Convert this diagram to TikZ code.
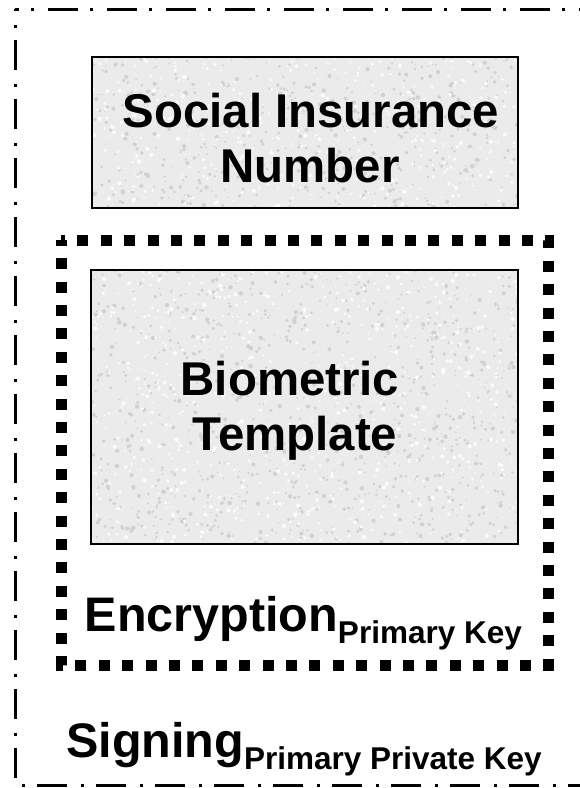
\documentclass[tikz,border=0pt]{standalone}
\usepackage{fontspec}
\setmainfont{Liberation Sans}
\definecolor{granite}{gray}{0.92}
\definecolor{speckdark}{gray}{0.82}
\definecolor{specklight}{gray}{0.985}

% granite-like speckle inside a rectangle: x1 y1 x2 y2 dark-count light-count
\newcommand\granitefill[6]{%
  \begin{scope}
    \clip (#1,#2) rectangle (#3,#4);
    \fill[granite] (#1,#2) rectangle (#3,#4);
    \foreach \k in {1,...,#5}{%
      \pgfmathsetmacro\px{#1+(#3-#1)*rnd}%
      \pgfmathsetmacro\py{#2+(#4-#2)*rnd}%
      \pgfmathsetmacro\pr{0.7+1.5*rnd}%
      \fill[speckdark] (\px,\py) circle[radius=\pr pt];
    }
    \foreach \k in {1,...,#6}{%
      \pgfmathsetmacro\px{#1+(#3-#1)*rnd}%
      \pgfmathsetmacro\py{#2+(#4-#2)*rnd}%
      \pgfmathsetmacro\pr{0.7+1.5*rnd}%
      \fill[specklight] (\px,\py) circle[radius=\pr pt];
    }
  \end{scope}}

\newcommand\keysub[1]{\raisebox{-12pt}{\fontsize{31.5}{31.5}\selectfont #1}}

\tikzset{
  outerframe/.style={line width=3pt, dash pattern=on 30pt off 12pt on 3pt off 14pt, dash phase=26pt},
  keyframe/.style={line width=11pt, dash pattern=on 11pt off 12.4pt, dash phase=7pt},
  databox/.style={draw=black, line width=1.6pt},
  bigtext/.style={font=\bfseries\fontsize{47.4}{47.4}\selectfont, inner sep=0pt, text=black},
  labeltext/.style={font=\bfseries\fontsize{48.5}{48.5}\selectfont, inner sep=0pt, text=black},
}

\begin{document}
\begin{tikzpicture}[x=1pt,y=-1pt]
  \useasboundingbox (0,0) rectangle (580,788);
  \pgfmathsetseed{4711}

  % signing envelope
  \draw[outerframe] (15,9) -- (584,9) -- (584,785) -- (15,785) -- cycle;

  % social insurance number block
  \granitefill{92}{57}{518}{208}{520}{420}
  \draw[databox] (92,57) rectangle (518,208);
  \node[bigtext, anchor=base] (sin1) at (311,127) {Social Insurance};
  \node[bigtext, anchor=base] (sin2) at (310,182) {Number};

  % encryption envelope
  \draw[keyframe] (61,240) -- (548,240) -- (548,665) -- (61,665) -- cycle;

  % biometric template block
  \granitefill{91}{270}{518}{544}{950}{760}
  \draw[databox] (91,270) rectangle (518,544);
  \node[bigtext, anchor=base] (bio1) at (290,395) {Biometric};
  \node[bigtext, anchor=base] (bio2) at (295,450) {Template};

  % envelope labels
  \node[labeltext, anchor=base west] (enc) at (84.5,631) {Encryption\keysub{Primary Key}};
  \node[labeltext, anchor=base west] (sig) at (66,757) {Signing\keysub{Primary Private Key}};
\end{tikzpicture}
\end{document}
